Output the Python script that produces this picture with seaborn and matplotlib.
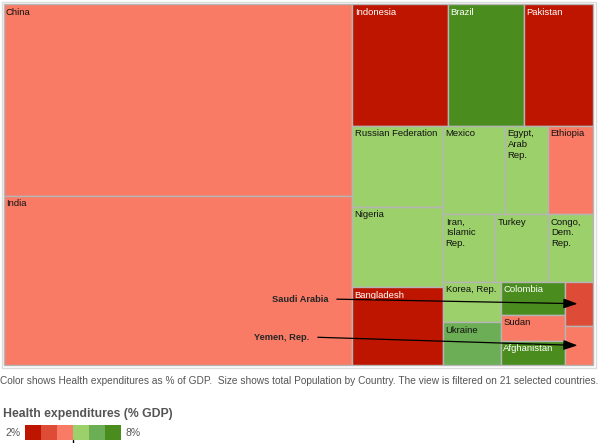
import matplotlib
matplotlib.use("Agg")
import matplotlib.pyplot as plt
import seaborn as sns

# population (millions), in the order the treemap lays them out
countries = ["China", "India",
             "Indonesia", "Brazil", "Pakistan",
             "Russian Federation", "Nigeria", "Bangladesh",
             "Mexico", "Egypt, Arab Rep.", "Ethiopia",
             "Iran, Islamic Rep.", "Turkey", "Congo, Dem. Rep.",
             "Korea, Rep.", "Ukraine",
             "Colombia", "Sudan", "Afghanistan",
             "Saudi Arabia", "Yemen, Rep."]
population = [1331, 1175,
              231, 185, 167,
              147, 145, 141,
              109, 76, 79,
              70, 71, 60,
              47, 49,
              42, 33, 31,
              25, 22]
# health expenditures, % of GDP
health_exp = [4.6, 4.2,
              2.5, 8.8, 2.6,
              5.4, 5.8, 2.8,
              5.9, 5.0, 4.3,
              5.5, 5.8, 5.3,
              5.7, 6.9,
              7.6, 4.5, 7.4,
              3.5, 4.9]
# how many countries go in each strip of the treemap
strips = [2, 3, 3, 3, 3, 2, 3, 2]
# countries too small to label inside their box
callouts = ["Saudi Arabia", "Yemen, Rep."]

bin_edges = [3, 4, 5, 6, 7]
bin_colors = ["#bd1500", "#de4b37", "#f97b65", "#9bd06b", "#6cae55", "#4a8c1e"]
legend_ticks = ["2%", "8%"]


def bin_of(v):
    k = 0
    for e in bin_edges:
        if v >= e:
            k += 1
    return k


def treemap(values, x, y, w, h, strips):
    rects = []
    i = 0
    for n in strips:
        vals = values[i:i + n]
        s = sum(vals)
        total = sum(values[i:])
        last = (i + n == len(values))
        if last:
            # whole remaining box, split along the long side
            if h >= w:
                yy = y
                for v in vals:
                    hh = h * v / s
                    rects.append((x, yy, w, hh))
                    yy += hh
            else:
                xx = x
                for v in vals:
                    ww = w * v / s
                    rects.append((xx, y, ww, h))
                    xx += ww
        elif w >= h:
            cw = w * s / total
            yy = y
            for v in vals:
                hh = h * v / s
                rects.append((x, yy, cw, hh))
                yy += hh
            x += cw
            w -= cw
        else:
            rh = h * s / total
            xx = x
            for v in vals:
                ww = w * v / s
                rects.append((xx, y, ww, rh))
                xx += ww
            y += rh
            h -= rh
        i += n
    return rects


sns.set_style("white")
plt.rcParams['font.family'] = ['Liberation Sans', 'DejaVu Sans']
palette = sns.color_palette(bin_colors)

fig = plt.figure(figsize=(6, 4.43), dpi=100)
ax = fig.add_axes([0, 0, 1, 1])
ax.set_xlim(0, 600)
ax.set_ylim(443, 0)
ax.axis("off")

# outer frame
ax.add_patch(plt.Rectangle((1.5, 1.5), 594.5, 366.5, fill=False,
                           edgecolor="#dcdcdc", lw=1))

rects = treemap(population, 3.5, 4, 589.5, 361, strips)
lefts = [r[0] for r in rects]
tops = [r[1] for r in rects]
widths = [r[2] for r in rects]
heights = [r[3] for r in rects]
colors = [palette[bin_of(v)] for v in health_exp]

ax.bar(lefts, heights, width=widths, bottom=tops, align="edge",
       color=colors, edgecolor="#b5b5b5", linewidth=1)

fig.canvas.draw()
renderer = fig.canvas.get_renderer()
for name, v, (x, y, w, h) in zip(countries, health_exp, rects):
    if name in callouts:
        continue
    k = bin_of(v)
    tc = "white" if k in (0, 1, 5) else "#111111"
    t = ax.text(x + 2.5, y + 3.5, name, fontsize=6.8, color=tc,
                ha="left", va="top", linespacing=1.25)
    bb = t.get_window_extent(renderer)
    if bb.width > w - 4:
        t.set_text(name.replace(" ", "\n"))

# call-outs for the tiny boxes
offsets = {"Saudi Arabia": (328, 299), "Yemen, Rep.": (309, 337)}
for name in callouts:
    i = countries.index(name)
    x, y, w, h = rects[i]
    ax.annotate(name, xy=(x + w / 2, y + h / 2), xytext=offsets[name],
                fontsize=6.7, fontweight="bold", ha="right", va="center",
                arrowprops=dict(arrowstyle="-|>,head_length=0.7,head_width=0.25",
                                color="black", lw=0.9, relpos=(1, 0.5),
                                shrinkA=4, shrinkB=1, mutation_scale=12))

ax.text(0, 381, "Color shows Health expenditures as % of GDP.  Size shows total "
        "Population by Country. The view is filtered on 21 selected countries.",
        fontsize=7.3, color="#555555", ha="left", va="center")

# colour legend
ax.text(3, 414, "Health expenditures (% GDP)", fontsize=8.8, fontweight="bold",
        color="#555555", ha="left", va="center")
sw = 16
ax.bar([25 + sw * k for k in range(len(palette))], [15] * len(palette),
       width=sw, bottom=425, align="edge", color=palette, linewidth=0)
ax.text(21, 432.5, legend_ticks[0], fontsize=7.5, color="#555555",
        ha="right", va="center")
ax.text(126, 432.5, legend_ticks[1], fontsize=7.5, color="#555555",
        ha="left", va="center")
ax.plot([73, 73], [440, 447], color="black", lw=1)

fig.savefig("out.png", dpi=100)
